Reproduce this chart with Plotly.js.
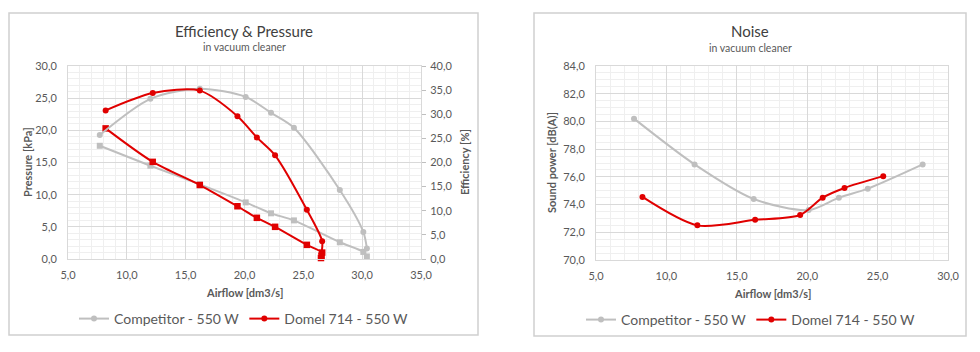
<!DOCTYPE html>
<html>
<head>
<meta charset="utf-8">
<script src="https://cdn.plot.ly/plotly-3.0.1.min.js"></script>
<style>
html,body{margin:0;padding:0;background:#fff;}
#chart{width:980px;height:352px;}
</style>
</head>
<body>
<div id="chart"></div>
<script>
// ---- data ----
const airflowCompetitor = [7.7, 12.0, 16.2, 20.1, 22.25, 24.2, 28.1, 30.1, 30.4];
const pressureCompetitor = [17.6, 14.5, 11.6, 8.8, 7.1, 6.0, 2.6, 1.1, 0.4];
const efficiencyCompetitor = [25.7, 33.2, 35.3, 33.6, 30.3, 27.2, 14.3, 5.6, 2.2];

const airflowDomel = [8.2, 12.2, 16.2, 19.4, 21.05, 22.6, 25.3, 26.6, 26.55, 26.5];
const pressureDomel = [20.3, 15.1, 11.5, 8.2, 6.4, 5.0, 2.2, 1.0, 0.5, 0.15];
const efficiencyDomel = [30.8, 34.4, 34.9, 29.6, 25.2, 21.5, 10.2, 3.7, 1.2, 0.3];

const noiseAirflowCompetitor = [7.7, 12.0, 16.2, 20.1, 22.25, 24.3, 28.2];
const noiseCompetitor = [80.2, 76.9, 74.4, 73.6, 74.5, 75.15, 76.9];
const noiseAirflowDomel = [8.3, 12.2, 16.3, 19.5, 21.1, 22.65, 25.4];
const noiseDomel = [74.55, 72.5, 72.9, 73.25, 74.5, 75.2, 76.05];

const nameCompetitor = "Competitor - 550 W";
const nameDomel = "Domel 714 - 550 W";

// ---- styling ----
const W = 980, H = 352;
const px = v => v / W, py = v => 1 - v / H;
const GRAY = "#bfbfbf", RED = "#e00000", TXT = "#595959";
const FONT = "Lato, 'Open Sans', sans-serif";

function line(x, y, name, color, symbol, size, xa, ya, legend, show, group) {
  return {
    x: x, y: y, name: name, type: "scatter", mode: "lines+markers",
    line: {color: color, width: 2, shape: "spline", smoothing: 0.8},
    marker: {color: color, symbol: symbol, size: size},
    xaxis: xa, yaxis: ya, legend: legend, showlegend: show,
    legendgroup: group, cliponaxis: false
  };
}

const traces = [
  line(airflowCompetitor, efficiencyCompetitor, nameCompetitor, GRAY, "circle", 6, "x", "y2", "legend", true, "c1"),
  line(airflowCompetitor, pressureCompetitor, nameCompetitor, GRAY, "square", 6, "x", "y", "legend", false, "c1"),
  line(airflowDomel, efficiencyDomel, nameDomel, RED, "circle", 6, "x", "y2", "legend", true, "d1"),
  line(airflowDomel, pressureDomel, nameDomel, RED, "square", 6.5, "x", "y", "legend", false, "d1"),
  line(noiseAirflowCompetitor, noiseCompetitor, nameCompetitor, GRAY, "circle", 6, "x2", "y3", "legend2", true, "c2"),
  line(noiseAirflowDomel, noiseDomel, nameDomel, RED, "circle", 6, "x2", "y3", "legend2", true, "d2")
];

const tickfont = {family: FONT, size: 11, color: TXT};
const gridAxis = {
  showgrid: true, gridcolor: "#d9d9d9", gridwidth: 1,
  showline: true, mirror: true, linecolor: "#d9d9d9", linewidth: 1,
  zeroline: false, tickfont: tickfont, tickformat: ".1f", ticks: "",
  fixedrange: true
};

const layout = {
  width: W, height: H,
  margin: {l: 0, r: 0, t: 0, b: 0},
  paper_bgcolor: "#fff", plot_bgcolor: "#fff",
  separators: ",.",
  font: {family: FONT, color: TXT},
  xaxis: Object.assign({}, gridAxis, {
    domain: [px(68), px(421)], range: [5, 35], dtick: 5, tick0: 5,
    anchor: "y", ticklabelstandoff: 6,
    minor: {dtick: 1, showgrid: true, gridcolor: "#efefef"}
  }),
  yaxis: Object.assign({}, gridAxis, {
    domain: [py(259), py(66)], range: [0, 30], dtick: 5,
    anchor: "x", ticklabelstandoff: 8,
    minor: {dtick: 1, showgrid: true, gridcolor: "#efefef"}
  }),
  yaxis2: {
    overlaying: "y", side: "right", anchor: "x", range: [0, 40], dtick: 5,
    showgrid: false, zeroline: false, showline: false,
    ticks: "outside", ticklen: 4, tickcolor: "#bfbfbf",
    tickfont: tickfont, tickformat: ".1f", ticklabelstandoff: 2, fixedrange: true
  },
  xaxis2: Object.assign({}, gridAxis, {
    domain: [px(596), px(948)], range: [5, 30], dtick: 5, tick0: 5,
    anchor: "y3", ticklabelstandoff: 6,
    minor: {dtick: 1, showgrid: true, gridcolor: "#efefef"}
  }),
  yaxis3: Object.assign({}, gridAxis, {
    domain: [py(260), py(66)], range: [70, 84], dtick: 2,
    anchor: "x2", ticklabelstandoff: 8,
    minor: {dtick: 0.5, showgrid: true, gridcolor: "#efefef"}
  }),
  legend: {
    orientation: "h", x: px(244), xanchor: "center", y: py(319), yanchor: "middle",
    font: {family: FONT, size: 14, color: TXT}, bgcolor: "rgba(0,0,0,0)",
    itemwidth: 30, tracegroupgap: 0
  },
  legend2: {
    orientation: "h", x: px(751), xanchor: "center", y: py(320), yanchor: "middle",
    font: {family: FONT, size: 14, color: TXT}, bgcolor: "rgba(0,0,0,0)",
    itemwidth: 30, tracegroupgap: 0
  },
  shapes: [
    {type: "rect", xref: "paper", yref: "paper", x0: px(9), x1: px(478), y0: py(335), y1: py(13),
     line: {color: "#d0d0d0", width: 1.5}, layer: "below"},
    {type: "rect", xref: "paper", yref: "paper", x0: px(534), x1: px(966), y0: py(336), y1: py(13),
     line: {color: "#d0d0d0", width: 1.5}, layer: "below"}
  ],
  annotations: [
    {text: "Efficiency &amp; Pressure", xref: "paper", yref: "paper", x: px(244), y: py(31),
     xanchor: "center", yanchor: "middle", showarrow: false, font: {family: FONT, size: 15, color: "#404040"}},
    {text: "in vacuum cleaner", xref: "paper", yref: "paper", x: px(244), y: py(47),
     xanchor: "center", yanchor: "middle", showarrow: false, font: {family: FONT, size: 10.5, color: TXT}},
    {text: "Noise", xref: "paper", yref: "paper", x: px(750), y: py(31),
     xanchor: "center", yanchor: "middle", showarrow: false, font: {family: FONT, size: 15, color: "#404040"}},
    {text: "in vacuum cleaner", xref: "paper", yref: "paper", x: px(750), y: py(48),
     xanchor: "center", yanchor: "middle", showarrow: false, font: {family: FONT, size: 10.5, color: TXT}},
    {text: "<b>Airflow [dm3/s]</b>", xref: "paper", yref: "paper", x: px(244), y: py(292),
     xanchor: "center", yanchor: "middle", showarrow: false, font: {family: FONT, size: 11, color: TXT}},
    {text: "<b>Airflow [dm3/s]</b>", xref: "paper", yref: "paper", x: px(772), y: py(293),
     xanchor: "center", yanchor: "middle", showarrow: false, font: {family: FONT, size: 11, color: TXT}},
    {text: "<b>Pressure [kPa]</b>", xref: "paper", yref: "paper", x: px(27), y: py(162),
     xanchor: "center", yanchor: "middle", textangle: -90, showarrow: false, font: {family: FONT, size: 11, color: TXT}},
    {text: "<b>Efficiency [%]</b>", xref: "paper", yref: "paper", x: px(464), y: py(162),
     xanchor: "center", yanchor: "middle", textangle: -90, showarrow: false, font: {family: FONT, size: 11, color: TXT}},
    {text: "<b>Sound power [dB(A)]</b>", xref: "paper", yref: "paper", x: px(551), y: py(163),
     xanchor: "center", yanchor: "middle", textangle: -90, showarrow: false, font: {family: FONT, size: 11, color: TXT}}
  ]
};

Plotly.newPlot("chart", traces, layout, {staticPlot: true, displayModeBar: false});
</script>
</body>
</html>
